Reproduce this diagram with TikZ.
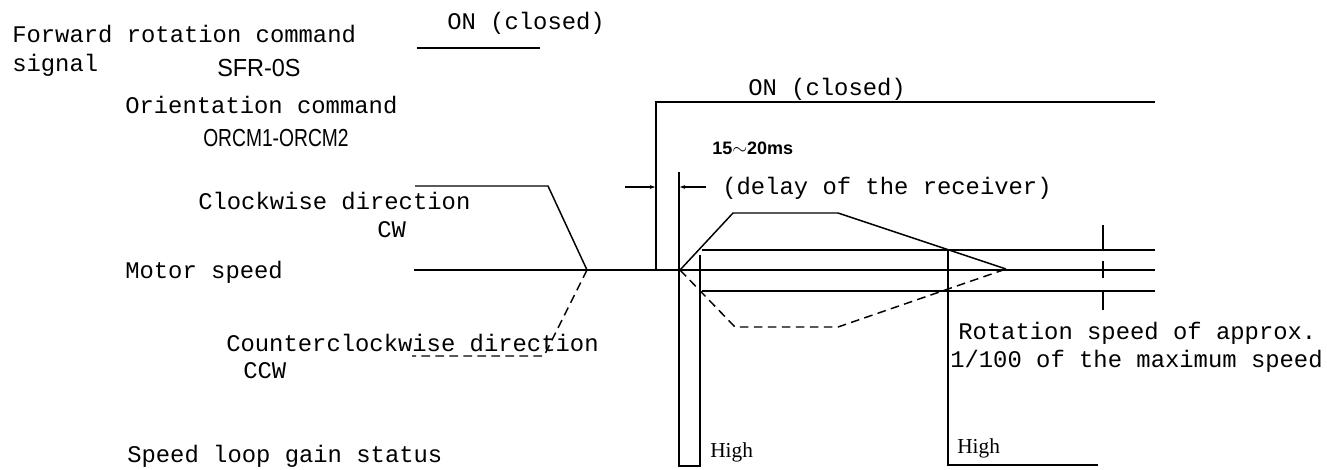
\documentclass[tikz,border=0pt]{standalone}
\usepackage{fontspec}
\setmainfont{Liberation Serif}
\setmonofont{Liberation Mono}
\newfontfamily\narrowA[FakeStretch=0.95]{Liberation Sans}
\newfontfamily\narrowB[FakeStretch=0.78]{Liberation Sans}
\newfontfamily\smallsans{Liberation Sans}
\usetikzlibrary{arrows.meta}
\tikzset{
  sig/.style={line width=1.1pt, line join=miter},
  dsig/.style={line width=1.1pt, dash pattern=on 6.5pt off 4pt},
  thin/.style={line width=0.8pt},
  dimarrow/.style={line width=0.8pt, -{Stealth[length=4pt,width=3pt]}},
  lbl/.style={anchor=base west, inner sep=0pt, font=\ttfamily\fontsize{17.9}{20}\selectfont},
  condA/.style={anchor=base west, inner sep=0pt, font=\narrowA\fontsize{18.5}{20}\selectfont},
  condB/.style={anchor=base west, inner sep=0pt, font=\narrowB\fontsize{18.5}{20}\selectfont},
  smalltxt/.style={anchor=base west, inner sep=0pt, font=\smallsans\bfseries\fontsize{13.5}{15}\selectfont},
  hightxt/.style={anchor=base west, inner sep=0pt, font=\rmfamily\fontsize{16}{18}\selectfont},
}
\begin{document}
\begin{tikzpicture}[x=0.75pt,y=-0.75pt]
\useasboundingbox (0,0) rectangle (1327,469);

% ---- labels ----
\node[lbl] (fwd) at (12,42) {Forward rotation command};
\node[lbl] (sig) at (12,71) {signal};
\node[condA] (sfr) at (217,76) {SFR-0S};
\node[lbl] (on1) at (447,29) {ON (closed)};
\node[lbl] (ori) at (125,113) {Orientation command};
\node[condB] (orcm) at (203,146) {ORCM1-ORCM2};
\node[lbl] (cwl) at (198,209) {Clockwise direction};
\node[lbl] (cw) at (377,237) {CW};
\node[lbl] (mot) at (125,278) {Motor speed};
\node[lbl] (ccwl) at (226,351) {Counterclockwise direction};
\node[lbl] (ccw) at (243,378) {CCW};
\node[lbl] (gain) at (127,462) {Speed loop gain status};
\node[lbl] (on2) at (748,95) {ON (closed)};
\node[smalltxt] (ms) at (712,154) {15$\sim$20ms};
\node[lbl] (delay) at (722,194) {(delay of the receiver)};
\node[lbl] (rot1) at (958,339) {Rotation speed of approx.};
\node[lbl] (rot2) at (950,367) {1/100 of the maximum speed};
\node[hightxt] (hi1) at (710,457) {High};
\node[hightxt] (hi2) at (957,453) {High};

% ---- key points ----
\coordinate (f0) at (417,48);
\coordinate (f1) at (540,48);
\coordinate (o0) at (656,270);
\coordinate (o1) at (656,102);
\coordinate (o2) at (1155,102);
\coordinate (m0) at (414,270);
\coordinate (m1) at (1155,270);
\coordinate (cw0) at (415,186);
\coordinate (cw1) at (548,186);
\coordinate (z0) at (587,270);
\coordinate (ccw1) at (544,356);
\coordinate (ccw0) at (412,356);
\coordinate (s0) at (680,270);
\coordinate (t1) at (733,213);
\coordinate (t2) at (838,213);
\coordinate (t3) at (1006,269);
\coordinate (d1) at (735,327);
\coordinate (d2) at (838,327);
\coordinate (u0) at (702,250);
\coordinate (u1) at (1155,250);
\coordinate (l0) at (702,291);
\coordinate (l1) at (1155,291);
\coordinate (g0) at (679,172);
\coordinate (g1) at (679,466);
\coordinate (g2) at (700,466);
\coordinate (g3) at (700,255);
\coordinate (h0) at (948,249);
\coordinate (h1) at (948,465);
\coordinate (h2) at (1098,465);

% ---- waveforms ----
\draw[sig] (f0) -- (f1);
\draw[sig] (o0) -- (o1) -- (o2);
\draw[sig] (m0) -- (m1);
\draw[sig] (cw0) -- (cw1) -- (z0);
\draw[dsig] (z0) -- (ccw1) -- (ccw0);
\draw[sig] (s0) -- (t1) -- (t2) -- (t3);
\draw[dsig] (s0) -- (d1) -- (d2) -- (t3);
\draw[sig] (u0) -- (u1);
\draw[sig] (l0) -- (l1);
\draw[sig] (g0) -- (g1) -- (g2) -- (g3);
\draw[sig] (h0) -- (h1) -- (h2);

% ---- dimension marks ----
\coordinate (a0) at (625,187);
\coordinate (a1) at (655,187);
\coordinate (b0) at (706,187);
\coordinate (b1) at (680,187);
\draw[dimarrow] (a0) -- (a1);
\draw[dimarrow] (b0) -- (b1);
\coordinate (k0) at (1103,225);
\coordinate (k1) at (1103,249);
\coordinate (k2) at (1103,261);
\coordinate (k3) at (1103,278);
\coordinate (k4) at (1103,310);
\coordinate (k5) at (1103,292);
\draw[thin] (k0) -- (k1);
\draw[thin] (k2) -- (k3);
\draw[thin] (k4) -- (k5);
\end{tikzpicture}
\end{document}
